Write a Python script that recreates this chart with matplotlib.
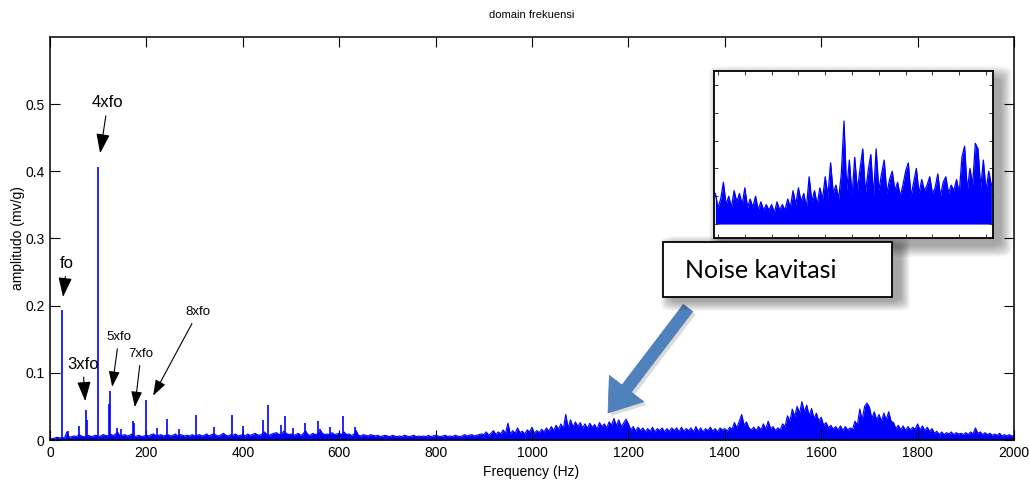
import numpy as np
import matplotlib.pyplot as plt
from matplotlib.patches import Rectangle, FancyBboxPatch

plt.rcParams['font.family'] = ['Liberation Sans', 'DejaVu Sans']

W, H = 1030, 482

# broadband spectrum, 5 Hz bins, amplitude in 1e-3 mv/g (one row = 100 Hz)
noise_milli = [
    2, 2, 3, 4, 3, 4, 3, 12, 4, 5, 6, 5, 8, 6, 5, 4, 7, 5, 6, 7,
    5, 6, 8, 7, 6, 9, 7, 8, 12, 6, 7, 8, 6, 7, 9, 5, 6, 7, 5, 6,
    7, 6, 8, 9, 6, 7, 8, 6, 7, 8, 6, 7, 9, 6, 8, 7, 6, 7, 6, 8,
    6, 7, 8, 6, 7, 9, 6, 8, 9, 7, 6, 8, 10, 7, 6, 8, 7, 9, 6, 7,
    8, 6, 9, 7, 8, 10, 8, 7, 9, 12, 8, 7, 9, 10, 11, 8, 9, 13, 10, 8,
    9, 7, 8, 10, 7, 9, 14, 8, 7, 10, 8, 9, 16, 10, 8, 9, 8, 11, 8, 9,
    10, 8, 12, 8, 9, 7, 8, 14, 7, 6, 8, 7, 6, 8, 7, 6, 7, 5, 6, 7,
    6, 5, 7, 6, 5, 6, 5, 7, 6, 5, 6, 7, 5, 6, 5, 6, 5, 7, 5, 6,
    7, 6, 5, 6, 7, 5, 6, 5, 7, 6, 5, 6, 8, 6, 7, 8, 6, 7, 8, 9,
    8, 12, 7, 10, 14, 8, 12, 9, 15, 10, 25, 9, 14, 10, 18, 11, 13, 9, 15, 12,
    19, 10, 14, 11, 16, 12, 18, 13, 20, 14, 22, 16, 24, 17, 38, 18, 30, 19, 27, 20,
    26, 18, 24, 17, 25, 19, 23, 16, 26, 20, 24, 18, 27, 22, 32, 21, 30, 20, 25, 31,
    24, 15, 20, 13, 19, 14, 18, 12, 17, 13, 19, 12, 17, 14, 18, 12, 17, 13, 18, 14,
    18, 12, 19, 13, 17, 14, 18, 12, 20, 13, 18, 12, 17, 14, 19, 13, 17, 12, 18, 15,
    17, 13, 19, 16, 26, 18, 28, 38, 22, 27, 18, 15, 19, 14, 20, 15, 24, 16, 28, 17,
    20, 14, 18, 15, 24, 20, 36, 28, 46, 35, 50, 40, 57, 42, 52, 36, 47, 32, 40, 28,
    34, 22, 26, 18, 22, 16, 20, 15, 21, 14, 20, 15, 18, 16, 28, 22, 46, 30, 50, 55,
    49, 32, 42, 30, 38, 28, 40, 30, 42, 28, 26, 17, 22, 15, 21, 14, 20, 15, 19, 16,
    24, 15, 21, 14, 19, 13, 17, 10, 13, 8, 12, 8, 11, 9, 12, 8, 11, 9, 10, 8,
    11, 8, 12, 9, 18, 10, 12, 8, 11, 8, 10, 7, 9, 7, 10, 6, 8, 6, 8, 6,
    7,
]
noise_freq = np.arange(0, 2001, 5)

# discrete lines (Hz, mv/g)
peak_freq = [25, 37, 60, 75, 77, 100, 123, 125, 140, 148, 172, 175, 200, 222,
             243, 268, 303, 340, 378, 400, 442, 452, 480, 488, 505, 530, 555,
             581, 608, 633]
peak_amp = [0.193, 0.013, 0.021, 0.045, 0.030, 0.407, 0.053, 0.073, 0.018,
            0.016, 0.028, 0.026, 0.059, 0.018, 0.031, 0.016, 0.037, 0.019,
            0.037, 0.021, 0.030, 0.052, 0.022, 0.035, 0.018, 0.025, 0.028,
            0.020, 0.036, 0.020]

# zoomed trace, 10 Hz bins, 1e-3 units
inset_milli = [
    11, 6, 9, 15, 7, 10, 6, 12, 8, 11,
    7, 13, 6, 9, 6, 10, 5, 8, 5, 7,
    5, 7, 4, 8, 5, 7, 5, 9, 6, 12,
    7, 13, 8, 11, 6, 17, 8, 12, 7, 13,
    9, 17, 10, 22, 11, 14, 9, 18, 37, 12,
    23, 10, 24, 12, 20, 27, 11, 19, 25, 10,
    27, 12, 18, 23, 11, 16, 19, 12, 15, 10,
    14, 19, 22, 10, 15, 20, 11, 16, 12, 14,
    17, 11, 13, 18, 10, 15, 17, 11, 14, 12,
    16, 11, 24, 28, 12, 20, 14, 29, 27, 13,
    23, 12, 19, 14,
]
inset_freq = np.arange(990, 2021, 10)

# harmonic callouts: label, text position, arrow tip, font size
harm_labels = ['fo', '4xfo', '3xfo', '5xfo', '7xfo', '8xfo']
harm_text_xy = [(35, 0.263), (120, 0.502), (68, 0.113), (143, 0.153), (189, 0.128), (307, 0.190)]
harm_tip_xy = [(27, 0.213), (104, 0.427), (73, 0.058), (129, 0.079), (176, 0.049), (214, 0.066)]
harm_size = [12, 12, 12, 9.5, 9.5, 9.5]

BLUE = '#0000ff'


def px_box(x0, y0, x1, y1):
    # pixel box (top-left origin) -> figure fraction rect
    return [x0 / W, 1 - y1 / H, (x1 - x0) / W, (y1 - y0) / H]


def soft_shadow(fig, x0, y0, x1, y1, dx=6, dy=6, spread=14, steps=16, alpha=0.03):
    for i in range(steps):
        g = spread * (1 - i / steps)
        l, b, w, h = px_box(x0 + dx - g * 0.5, y0 + dy - g * 0.5,
                            x1 + dx + g * 0.5, y1 + dy + g * 0.5)
        fig.add_artist(FancyBboxPatch((l, b), w, h, boxstyle='round,pad=0,rounding_size=0.012',
                                      transform=fig.transFigure, facecolor='black',
                                      edgecolor='none', alpha=alpha, zorder=2))


def spectrum(axis, f, a, lw):
    axis.fill_between(f, 0, a, color=BLUE, lw=0)
    axis.plot(f, a, color=BLUE, lw=lw)


fig = plt.figure(figsize=(W / 100, H / 100), dpi=100)
ax = fig.add_axes(px_box(50, 37, 1014, 440))

spectrum(ax, noise_freq, np.array(noise_milli) / 1000, 0.8)
ax.vlines(peak_freq, 0, peak_amp, color=BLUE, lw=1.2)

ax.set_xlim(0, 2000)
ax.set_ylim(0, 0.6)
ax.set_xticks(np.arange(0, 2001, 200))
ax.set_yticks([0, 0.1, 0.2, 0.3, 0.4, 0.5])
ax.set_yticklabels(['0', '0.1', '0.2', '0.3', '0.4', '0.5'])
ax.tick_params(direction='in', top=True, right=True, length=7, width=0.8,
               labelsize=10, pad=4)
for s in ax.spines.values():
    s.set_linewidth(1.1)

for lab, txy, tip, fs in zip(harm_labels, harm_text_xy, harm_tip_xy, harm_size):
    ax.annotate(lab, xy=tip, xytext=txy, ha='center', va='center', fontsize=fs,
                arrowprops=dict(arrowstyle='-|>,head_length=1.0,head_width=0.35',
                                color='black', lw=0.8, shrinkA=2, shrinkB=0))

fig.text(532 / W, 1 - 15 / H, 'domain frekuensi', ha='center', va='center', fontsize=8)
fig.text(531 / W, 1 - 472 / H, 'Frequency (Hz)', ha='center', va='center', fontsize=10)
fig.text(18 / W, 1 - 238 / H, 'amplitudo (mv/g)', ha='center', va='center',
         rotation=90, fontsize=10)

# zoomed view of the broadband part
soft_shadow(fig, 714, 71, 993, 238, dx=7, dy=7, spread=24, alpha=0.025)
axi = fig.add_axes(px_box(714, 71, 993, 238), zorder=3)
spectrum(axi, inset_freq, np.array(inset_milli) / 1000, 0.9)
axi.set_xlim(985, 2026)
axi.set_ylim(-0.005, 0.055)
axi.set_xticks(np.arange(1000, 2001, 100))
axi.set_yticks([0, 0.01, 0.02, 0.03, 0.04, 0.05])
axi.tick_params(direction='in', top=True, right=True, length=3, width=0.7,
                labelbottom=False, labelleft=False, color='#333333')
for s in axi.spines.values():
    s.set_linewidth(1.3)

# callout box and arrow
soft_shadow(fig, 663, 242, 892, 297, dx=8, dy=4, spread=20, alpha=0.025)
box = px_box(663, 242, 892, 297)
fig.add_artist(Rectangle(box[:2], box[2], box[3], transform=fig.transFigure,
                         facecolor='white', edgecolor='black', lw=1.3, zorder=4))
fig.text(685 / W, 1 - 271 / H, 'Noise kavitasi', ha='left', va='center', fontsize=18,
         family=['Lato', 'DejaVu Sans'], zorder=5)

arrow_style = 'simple,head_length=1.7,head_width=2.4,tail_width=0.65'
ax.annotate('', xy=(611, H - 416), xytext=(691, H - 311), xycoords='figure pixels',
            textcoords='figure pixels',
            arrowprops=dict(arrowstyle=arrow_style, mutation_scale=13,
                            fc='#9a9a9a', ec='none', alpha=0.35, shrinkA=0, shrinkB=0),
            annotation_clip=False)
ax.annotate('', xy=(608, H - 413), xytext=(688, H - 308), xycoords='figure pixels',
            textcoords='figure pixels',
            arrowprops=dict(arrowstyle=arrow_style, mutation_scale=13,
                            fc='#4f81bd', ec='#4a7ab4', lw=0.5, shrinkA=0, shrinkB=0),
            annotation_clip=False)

fig.savefig('out.png', dpi=100)
